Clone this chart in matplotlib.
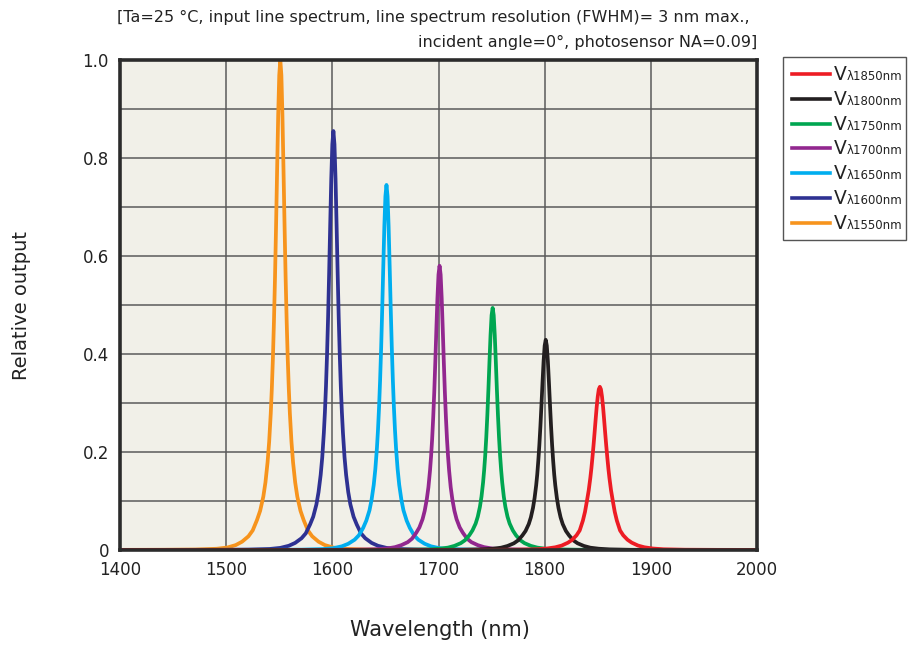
import matplotlib
matplotlib.use("Agg")
import matplotlib.pyplot as plt
from matplotlib.lines import Line2D
from matplotlib.patches import Rectangle

plt.rcParams['font.family'] = ['DejaVu Sans']

# ---- data ----
wl_1550 = [1400, 1441, 1471, 1491, 1501, 1509, 1515, 1521, 1525, 1529, 1532, 1535, 1537, 1539, 1540.5,
           1542, 1543, 1544, 1545, 1546, 1547, 1548, 1549, 1550, 1551,
           1552, 1553, 1554, 1555, 1556, 1557, 1558, 1559, 1560, 1561.5, 1563, 1565, 1567, 1570, 1573,
           1577, 1581, 1587, 1593, 1601, 1611, 1631, 1661, 2000]
v_1550 = [0.0003, 0.0005, 0.001, 0.0025, 0.005, 0.010, 0.017, 0.028, 0.040, 0.061, 0.080, 0.109, 0.138,
          0.179, 0.221, 0.279, 0.329, 0.390, 0.466, 0.556, 0.662, 0.777, 0.887, 0.969, 1.0,
          0.969, 0.887, 0.777, 0.662, 0.556, 0.466, 0.390, 0.329, 0.279, 0.221, 0.179, 0.138, 0.109,
          0.080, 0.061, 0.040, 0.028, 0.017, 0.010, 0.005, 0.0025, 0.001, 0.0005, 0.0]

wl_1600 = [1400, 1491, 1521, 1541, 1551, 1559, 1565, 1571, 1575, 1579, 1582, 1585, 1587, 1589, 1590.5,
           1592, 1593, 1594, 1595, 1596, 1597, 1598, 1599, 1600, 1601,
           1602, 1603, 1604, 1605, 1606, 1607, 1608, 1609, 1610, 1611.5, 1613, 1615, 1617, 1620, 1623,
           1627, 1631, 1637, 1643, 1651, 1661, 1681, 1711, 2000]
v_1600 = [0.0002, 0.0004, 0.0009, 0.0021, 0.0043, 0.0086, 0.0145, 0.024, 0.034, 0.052, 0.068, 0.093,
          0.118, 0.153, 0.189, 0.239, 0.281, 0.333, 0.398, 0.475, 0.566, 0.664, 0.758, 0.828, 0.855,
          0.828, 0.758, 0.664, 0.566, 0.475, 0.398, 0.333, 0.281, 0.239, 0.189, 0.153, 0.118, 0.093,
          0.068, 0.052, 0.034, 0.024, 0.0145, 0.0086, 0.0043, 0.0021, 0.0009, 0.0004, 0.0]

wl_1650 = [1400, 1541, 1571, 1591, 1601, 1609, 1615, 1621, 1625, 1629, 1632, 1635, 1637, 1639, 1640.5,
           1642, 1643, 1644, 1645, 1646, 1647, 1648, 1649, 1650, 1651,
           1652, 1653, 1654, 1655, 1656, 1657, 1658, 1659, 1660, 1661.5, 1663, 1665, 1667, 1670, 1673,
           1677, 1681, 1687, 1693, 1701, 1711, 1731, 1761, 2000]
v_1650 = [0.0001, 0.0004, 0.0007, 0.0019, 0.0037, 0.0075, 0.0127, 0.021, 0.030, 0.045, 0.060, 0.081,
          0.103, 0.133, 0.165, 0.208, 0.245, 0.291, 0.347, 0.414, 0.493, 0.579, 0.661, 0.722, 0.745,
          0.722, 0.661, 0.579, 0.493, 0.414, 0.347, 0.291, 0.245, 0.208, 0.165, 0.133, 0.103, 0.081,
          0.060, 0.045, 0.030, 0.021, 0.0127, 0.0075, 0.0037, 0.0019, 0.0007, 0.0004, 0.0001]

wl_1700 = [1400, 1591, 1621, 1641, 1651, 1659, 1665, 1671, 1675, 1679, 1682, 1685, 1687, 1689, 1690.5,
           1692, 1693, 1694, 1695, 1696, 1697, 1698, 1699, 1700, 1701,
           1702, 1703, 1704, 1705, 1706, 1707, 1708, 1709, 1710, 1711.5, 1713, 1715, 1717, 1720, 1723,
           1727, 1731, 1737, 1743, 1751, 1761, 1781, 1811, 2000]
v_1700 = [0.0001, 0.0003, 0.0006, 0.0015, 0.0029, 0.0058, 0.0099, 0.016, 0.023, 0.035, 0.046, 0.063,
          0.080, 0.104, 0.128, 0.162, 0.191, 0.226, 0.270, 0.322, 0.384, 0.451, 0.514, 0.562, 0.58,
          0.562, 0.514, 0.451, 0.384, 0.322, 0.270, 0.226, 0.191, 0.162, 0.128, 0.104, 0.080, 0.063,
          0.046, 0.035, 0.023, 0.016, 0.0099, 0.0058, 0.0029, 0.0015, 0.0006, 0.0003, 0.0001]

wl_1750 = [1400, 1641, 1671, 1691, 1701, 1709, 1715, 1721, 1725, 1729, 1732, 1735, 1737, 1739, 1740.5,
           1742, 1743, 1744, 1745, 1746, 1747, 1748, 1749, 1750, 1751,
           1752, 1753, 1754, 1755, 1756, 1757, 1758, 1759, 1760, 1761.5, 1763, 1765, 1767, 1770, 1773,
           1777, 1781, 1787, 1793, 1801, 1811, 1831, 1861, 2000]
v_1750 = [0.0001, 0.0002, 0.0005, 0.0012, 0.0025, 0.0049, 0.0084, 0.014, 0.020, 0.030, 0.040, 0.054,
          0.068, 0.088, 0.109, 0.138, 0.163, 0.193, 0.230, 0.275, 0.327, 0.384, 0.438, 0.479, 0.494,
          0.479, 0.438, 0.384, 0.327, 0.275, 0.230, 0.193, 0.163, 0.138, 0.109, 0.088, 0.068, 0.054,
          0.040, 0.030, 0.020, 0.014, 0.0084, 0.0049, 0.0025, 0.0012, 0.0005, 0.0002, 0.0001]

wl_1800 = [1400, 1691, 1721, 1741, 1751, 1759, 1765, 1771, 1775, 1779, 1782, 1785, 1787, 1789, 1790.5,
           1792, 1793, 1794, 1795, 1796, 1797, 1798, 1799, 1800, 1801,
           1802, 1803, 1804, 1805, 1806, 1807, 1808, 1809, 1810, 1811.5, 1813, 1815, 1817, 1820, 1823,
           1827, 1831, 1837, 1843, 1851, 1861, 1881, 1911, 2000]
v_1800 = [0.0001, 0.0002, 0.0004, 0.0013, 0.0026, 0.0047, 0.0082, 0.0137, 0.0197, 0.0297, 0.0389,
          0.0529, 0.0666, 0.086, 0.106, 0.132, 0.154, 0.182, 0.2145, 0.253, 0.297, 0.343, 0.386, 0.417,
          0.429,
          0.417, 0.386, 0.343, 0.297, 0.253, 0.2145, 0.182, 0.154, 0.132, 0.106, 0.086, 0.0666, 0.0529,
          0.0389, 0.0297, 0.0197, 0.0137, 0.0082, 0.0047, 0.0026, 0.0013, 0.0004, 0.0002, 0.0001]

wl_1850 = [1400, 1742, 1772, 1792, 1802, 1810, 1816, 1822, 1826, 1830, 1833, 1836, 1838, 1840, 1841.5,
           1843, 1844, 1845, 1846, 1847, 1848, 1849, 1850, 1851, 1852,
           1853, 1854, 1855, 1856, 1857, 1858, 1859, 1860, 1861, 1862.5, 1864, 1866, 1868, 1871, 1874,
           1878, 1882, 1888, 1894, 1902, 1912, 1932, 1962, 2000]
v_1850 = [0.0001, 0.0003, 0.0006, 0.0015, 0.003, 0.0055, 0.009, 0.015, 0.021, 0.030, 0.040, 0.060,
          0.078, 0.1025, 0.122, 0.147, 0.1665, 0.189, 0.213, 0.239, 0.266, 0.292, 0.313, 0.328, 0.333,
          0.328, 0.313, 0.292, 0.266, 0.239, 0.213, 0.189, 0.1665, 0.147, 0.122, 0.1025, 0.078, 0.060,
          0.040, 0.030, 0.021, 0.015, 0.009, 0.0055, 0.003, 0.0015, 0.0006, 0.0003, 0.0002]

legend_labels = ["1850nm", "1800nm", "1750nm", "1700nm", "1650nm", "1600nm", "1550nm"]
series_wl = [wl_1850, wl_1800, wl_1750, wl_1700, wl_1650, wl_1600, wl_1550]
series_v = [v_1850, v_1800, v_1750, v_1700, v_1650, v_1600, v_1550]
colors = ["#ed1c24", "#231f20", "#00a651", "#92278f", "#00aeef", "#2e3192", "#f7941d"]

xticks = [1400, 1500, 1600, 1700, 1800, 1900, 2000]
yticks = [0, 0.2, 0.4, 0.6, 0.8, 1.0]
yticklabels = ["0", "0.2", "0.4", "0.6", "0.8", "1.0"]

# ---- figure ----
W, H = 908, 646
fig = plt.figure(figsize=(W / 100, H / 100), dpi=100)
ax = fig.add_axes([120 / W, 1 - 550 / H, 637 / W, 490 / H])
ax.set_facecolor("#f1f0e8")

for wl, v, c in zip(series_wl[::-1], series_v[::-1], colors[::-1]):
    ax.plot(wl, v, color=c, lw=2.7, zorder=3, solid_joinstyle='round')

ax.set_xlim(1400, 2000)
ax.set_ylim(0, 1.0)
ax.set_xticks(xticks)
ax.set_yticks(yticks)
ax.set_yticklabels(yticklabels)
ax.set_yticks([0.1, 0.3, 0.5, 0.7, 0.9], minor=True)
ax.grid(True, which='both', color="#5a5a5a", lw=1.1, zorder=1)
ax.tick_params(which='both', length=0, labelsize=12, pad=8, colors="#222222")
for s in ax.spines.values():
    s.set_color("#2b2b2b")
    s.set_linewidth(2.6)
    s.set_zorder(4)

fig.text(440 / W, 1 - 630 / H, "Wavelength (nm)", ha='center', va='center', fontsize=15, color="#222222")
fig.text(22 / W, 1 - 305 / H, "Relative output", ha='center', va='center', rotation=90, fontsize=14, color="#222222")

fig.text(117 / W, 1 - 17 / H,
         "[Ta=25 \u00b0C, input line spectrum, line spectrum resolution (FWHM)= 3 nm max.,",
         ha='left', va='center', fontsize=11.5, color="#222222")
fig.text(757 / W, 1 - 42 / H,
         "incident angle=0\u00b0, photosensor NA=0.09]",
         ha='right', va='center', fontsize=11.5, color="#222222")

# ---- legend (outside right) ----
fig.patches.append(Rectangle((783 / W, 1 - 240 / H), 123 / W, 183 / H, transform=fig.transFigure,
                             facecolor='white', edgecolor='#555555', lw=1.0))
for i, (lab, c) in enumerate(zip(legend_labels, colors)):
    yp = 1 - (74 + 24.8 * i) / H
    fig.add_artist(Line2D([792 / W, 830 / W], [yp, yp], color=c, lw=2.6, transform=fig.transFigure))
    fig.text(834 / W, yp - 6 / H, "V", ha='left', va='baseline', fontsize=13.5, color="#222222")
    fig.text(847 / W, yp - 6 / H, "\u03bb" + lab, ha='left', va='baseline', fontsize=8.5, color="#222222")

fig.savefig("out.png", dpi=100)
